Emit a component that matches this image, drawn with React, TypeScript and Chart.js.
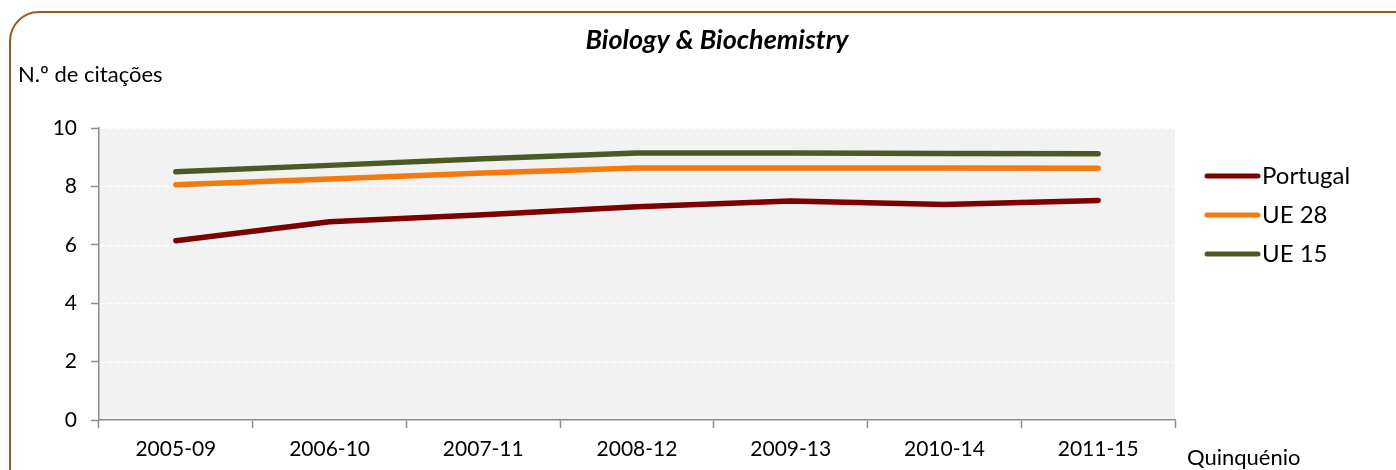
import React, { useEffect, useRef } from "react";
import { Chart, registerables } from "chart.js";

Chart.register(...registerables);

const categories = ["2005-09", "2006-10", "2007-11", "2008-12", "2009-13", "2010-14", "2011-15"];
const portugal = [6.14, 6.79, 7.03, 7.3, 7.5, 7.38, 7.52];
const ue28 = [8.06, 8.25, 8.46, 8.63, 8.63, 8.63, 8.62];
const ue15 = [8.5, 8.72, 8.95, 9.14, 9.14, 9.13, 9.12];
const seriesNames = ["Portugal", "UE 28", "UE 15"];
const seriesColors = ["#7B0000", "#F47A0E", "#4B5A24"];
const yMin = 0;
const yMax = 10;
const yStep = 2;
const chartTitle = "Biology & Biochemistry";
const yTitle = "N.º de citações";
const xTitle = "Quinquénio";

const FONT = "Lato, 'Open Sans', sans-serif";
const AXIS_GRAY = "#8C8C8C";

const decorPlugin = {
  id: "decor",
  beforeDraw(chart: any) {
    const { ctx, chartArea } = chart;
    ctx.save();
    ctx.fillStyle = "#F2F2F2";
    ctx.fillRect(chartArea.left, chartArea.top, chartArea.right - chartArea.left, chartArea.bottom - chartArea.top);
    ctx.restore();
  },
  beforeDatasetsDraw(chart: any) {
    const { ctx, chartArea, scales } = chart;
    const y = scales.y;
    ctx.save();
    ctx.strokeStyle = "#FFFFFF";
    ctx.lineWidth = 1.5;
    ctx.setLineDash([5, 3]);
    y.ticks.forEach((t: any) => {
      if (t.value === yMin) return;
      const py = Math.round(y.getPixelForValue(t.value)) + 0.5;
      ctx.beginPath();
      ctx.moveTo(chartArea.left + 1, py);
      ctx.lineTo(chartArea.right, py);
      ctx.stroke();
    });
    ctx.restore();
  },
  afterDraw(chart: any) {
    const { ctx, chartArea } = chart;
    ctx.save();
    ctx.fillStyle = "#000";
    ctx.font = `italic bold 27px ${FONT}`;
    ctx.textAlign = "center";
    ctx.textBaseline = "middle";
    ctx.fillText(chartTitle, 717, 40);
    ctx.font = `22px ${FONT}`;
    ctx.textAlign = "left";
    ctx.fillText(yTitle, 18, 75);
    ctx.fillText(xTitle, 1187, 458);
    const lx = chartArea.right + 30;
    chart.data.datasets.forEach((ds: any, i: number) => {
      const ly = 176 + i * 39;
      ctx.strokeStyle = ds.borderColor;
      ctx.lineWidth = 5;
      ctx.lineCap = "round";
      ctx.beginPath();
      ctx.moveTo(lx + 2, ly);
      ctx.lineTo(lx + 53, ly);
      ctx.stroke();
      ctx.fillStyle = "#000";
      ctx.font = `24px ${FONT}`;
      ctx.textAlign = "left";
      ctx.textBaseline = "middle";
      ctx.fillText(ds.label, lx + 57, ly);
    });
    ctx.restore();
  },
};

export default function App() {
  const ref = useRef<HTMLCanvasElement>(null);
  useEffect(() => {
    if (!ref.current) return;
    const data = [portugal, ue28, ue15];
    const chart = new Chart(ref.current, {
      type: "line",
      data: {
        labels: categories,
        datasets: seriesNames.map((name, i) => ({
          label: name,
          data: data[i],
          borderColor: seriesColors[i],
          backgroundColor: seriesColors[i],
          borderWidth: 5.5,
          borderCapStyle: "round",
          borderJoinStyle: "round",
          pointRadius: 0,
          pointHoverRadius: 0,
          tension: 0,
        })),
      },
      options: {
        responsive: false,
        maintainAspectRatio: false,
        animation: false,
        devicePixelRatio: 1,
        layout: { padding: { top: 128, right: 221, left: 0, bottom: 0 } },
        plugins: {
          legend: { display: false },
          title: { display: false },
          tooltip: { enabled: false },
        },
        scales: {
          x: {
            offset: true,
            grid: {
              offset: true,
              drawOnChartArea: false,
              drawTicks: true,
              tickLength: 8,
              tickColor: AXIS_GRAY,
              tickWidth: 1.5,
            },
            border: { display: true, color: AXIS_GRAY, width: 1.5 },
            ticks: {
              color: "#000",
              font: { family: FONT, size: 21 },
              padding: 9,
              maxRotation: 0,
              autoSkip: false,
            },
            afterFit(scale: any) {
              scale.height = 50;
            },
          },
          y: {
            min: yMin,
            max: yMax,
            grid: {
              drawOnChartArea: false,
              drawTicks: true,
              tickLength: 8,
              tickColor: AXIS_GRAY,
              tickWidth: 1.5,
            },
            border: { display: true, color: AXIS_GRAY, width: 1.5 },
            ticks: {
              stepSize: yStep,
              color: "#000",
              font: { family: FONT, size: 21 },
              padding: 14,
            },
            afterFit(scale: any) {
              scale.width = 99;
            },
          },
        },
      },
      plugins: [decorPlugin],
    } as any);
    return () => chart.destroy();
  }, []);

  return (
    <div style={{ position: "fixed", left: 0, top: 0, width: 1396, height: 470, overflow: "hidden", background: "#fff" }}>
      <div
        style={{
          position: "absolute",
          left: 9,
          top: 11,
          width: 1440,
          height: 520,
          border: "2px solid #9C5A22",
          borderRadius: 30,
          boxSizing: "border-box",
        }}
      />
      <canvas ref={ref} width={1396} height={470} style={{ position: "absolute", left: 0, top: 0, width: 1396, height: 470 }} />
    </div>
  );
}
